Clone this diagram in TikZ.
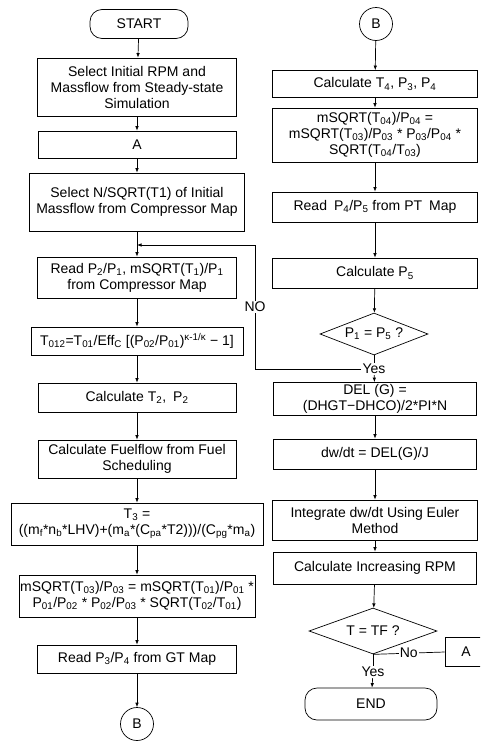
\documentclass[tikz,border=0pt]{standalone}
\usepackage{fontspec}
\setmainfont{Liberation Sans}
\usetikzlibrary{positioning,shapes.geometric,arrows.meta}
\newcommand{\flowfont}{\fontsize{14}{16}\selectfont}
\newcommand{\ix}[1]{\textsubscript{#1}}
\tikzset{>={Latex[length=4.5pt,width=3.5pt]}}
\tikzset{myboxes/.style={draw,rectangle,align=center,inner sep=1pt,font=\flowfont}}
\tikzset{myterms/.style={myboxes,rounded corners=12pt}}
\tikzset{mycircles/.style={draw,circle,minimum size=33pt,inner sep=0pt,font=\flowfont}}
\tikzset{mydecisions/.style={draw,diamond,inner sep=0pt,font=\flowfont}}
\tikzset{mylabels/.style={fill=white,inner sep=1pt,font=\flowfont}}
\tikzset{myedges/.style={line width=0.7pt}}

\begin{document}
\begin{tikzpicture}[x=1pt,y=-1pt,line width=0.7pt]
  \path[use as bounding box,clip] (0,0) rectangle (480,747);
  % left column
  \node[myterms,minimum width=98pt,minimum height=29pt] (start) at (139,24) {START};
  \node[myboxes,minimum width=199pt,minimum height=58pt] (box1) at (137,87)
    {Select Initial RPM and\\Massflow from Steady-state\\Simulation};
  \node[myboxes,minimum width=198pt,minimum height=27pt] (boxa) at (137,144.5) {A};
  \node[myboxes,minimum width=215pt,minimum height=58pt] (box3) at (137,202)
    {Select N/SQRT(T1) of Initial\\Massflow from Compressor Map};
  \node[myboxes,minimum width=199pt,minimum height=41pt] (box4) at (137,277.5)
    {Read P\ix{2}/P\ix{1}, mSQRT(T\ix{1})/P\ix{1}\\from Compressor Map};
  \node[myboxes,minimum width=212pt,minimum height=28pt] (box5) at (137,341)
    {T\ix{012}=T\ix{01}/Eff\ix{C} [(P\ix{02}/P\ix{01})\textsuperscript{κ-1/κ} − 1]};
  \node[myboxes,minimum width=198pt,minimum height=29pt] (box6) at (137,397.5)
    {Calculate T\ix{2},\enspace P\ix{2}};
  \node[myboxes,minimum width=198pt,minimum height=38pt] (box7) at (137,459)
    {Calculate Fuelflow from Fuel\\Scheduling};
  \node[myboxes,minimum width=252pt,minimum height=42pt] (box8) at (137,524)
    {T\ix{3} =\\((m\ix{f}*n\ix{b}*LHV)+(m\ix{a}*(C\ix{pa}*T2)))/(C\ix{pg}*m\ix{a})};
  \node[myboxes,minimum width=236pt,minimum height=42pt] (box9) at (137,596)
    {mSQRT(T\ix{03})/P\ix{03} = mSQRT(T\ix{01})/P\ix{01} *\\P\ix{01}/P\ix{02} * P\ix{02}/P\ix{03} * SQRT(T\ix{02}/T\ix{01})};
  \node[myboxes,minimum width=199pt,minimum height=28pt] (box10) at (137,659)
    {Read P\ix{3}/P\ix{4} from GT Map};
  \node[mycircles] (bout) at (137,724) {B};
  % right column
  \node[mycircles] (bin) at (376,24) {B};
  \node[myboxes,minimum width=205pt,minimum height=27pt] (calc1) at (375,84)
    {Calculate T\ix{4}, P\ix{3}, P\ix{4}};
  \node[myboxes,minimum width=205pt,minimum height=54pt] (calc2) at (375,135)
    {mSQRT(T\ix{04})/P\ix{04} =\\mSQRT(T\ix{03})/P\ix{03} * P\ix{03}/P\ix{04} *\\SQRT(T\ix{04}/T\ix{03})};
  \node[myboxes,minimum width=205pt,minimum height=30pt] (calc3) at (375,207)
    {Read\enspace P\ix{4}/P\ix{5} from PT\enspace Map};
  \node[myboxes,minimum width=205pt,minimum height=30pt] (calc4) at (375,273)
    {Calculate P\ix{5}};
  \node[mydecisions,minimum width=108pt,minimum height=42pt,aspect=2.57] (test1) at (374,334)
    {P\ix{1} = P\ix{5} ?};
  \node[mylabels] (yes1) at (374,369) {Yes};
  \node[myboxes,minimum width=203pt,minimum height=33pt] (calc5) at (375,399)
    {DEL (G) =\\(DHGT−DHCO)/2*PI*N};
  \node[myboxes,minimum width=203pt,minimum height=30pt] (calc6) at (375,454)
    {dw/dt = DEL(G)/J};
  \node[myboxes,minimum width=205pt,minimum height=40pt] (calc7) at (375,520)
    {Integrate dw/dt Using Euler\\Method};
  \node[myboxes,minimum width=203pt,minimum height=32pt] (calc8) at (375,568)
    {Calculate Increasing RPM};
  \node[mydecisions,minimum width=128pt,minimum height=46pt,aspect=2.78] (test2) at (373,631)
    {T = TF ?};
  \node[myboxes,minimum width=42pt,minimum height=29pt] (boxa2) at (466,652) {A};
  \node[mylabels] (yes2) at (373,672) {Yes};
  \node[myterms,minimum width=132pt,minimum height=32pt] (end) at (371,704) {END};
  \coordinate (fb) at (137,245);
  \coordinate (noturn) at (255,369);
  \coordinate (nocorner) at (255,245);
  % connectors
  \foreach \a/\b in {start/box1,box1/boxa,boxa/box3,box4/box5,box5/box6,box6/box7,
      box7/box8,box8/box9,box9/box10,box10/bout,bin/calc1,calc1/calc2,calc2/calc3,
      calc3/calc4,calc4/test1,yes1/calc5,calc5/calc6,calc6/calc7,calc7/calc8,
      calc8/test2,yes2/end}
    \draw[->,myedges] (\a) -- (\b);
  \draw[->,myedges] (box3) -- (box4);
  \draw[myedges] (test1.south) -- (yes1);
  \draw[myedges] (test2.south) -- (yes2);
  \draw[->,myedges] (yes1.west) -- (noturn) -- node[mylabels]{NO} (nocorner) -- (fb);
  \draw[myedges] (test2.south) -- node[mylabels]{No} (boxa2.west);
\end{tikzpicture}
\end{document}
